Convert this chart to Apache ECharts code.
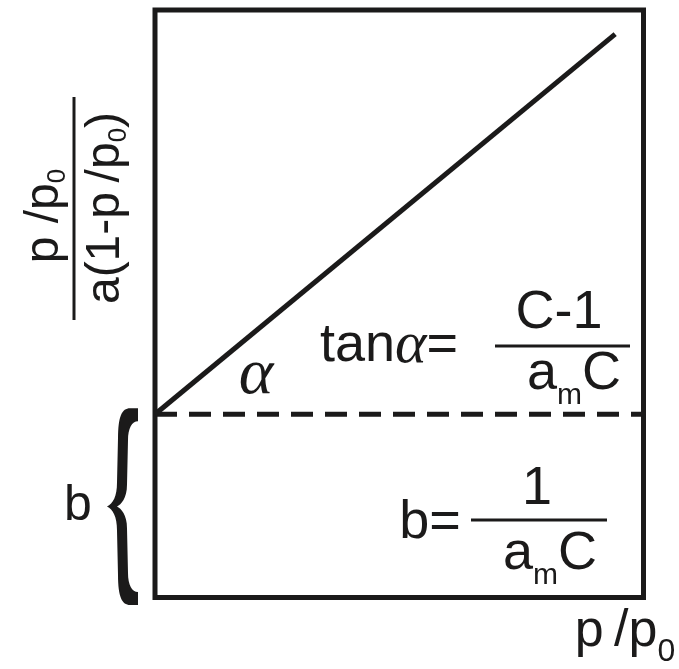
<!DOCTYPE html>
<html>
<head>
<meta charset="utf-8">
<title>BET plot</title>
<script src="https://cdn.jsdelivr.net/npm/echarts@6/dist/echarts.min.js"></script>
<style>
  html, body { margin: 0; padding: 0; background: #ffffff; }
  #chart { width: 679px; height: 669px; }
</style>
</head>
<body>
<div id="chart"></div>
<script>
// BET linear plot: p/p0 against p/p0 / (a(1 - p/p0)), with intercept b and slope tan(alpha)
const INK = '#1b1a1a';

// straight BET line (relative pressure -> transformed ordinate)
const betX = [0, 0.942];
const betY = [0.312, 0.959];

// intercept b as a dashed horizontal line
const interceptX = [0, 1];
const interceptY = [0.312, 0.312];

// brace spanning the intercept from zero up to b
const braceSpan = [[0, 0.312]];

const SANS = 'Liberation Sans';
const SERIF = 'Liberation Serif';

const chart = echarts.init(document.getElementById('chart'), null, { renderer: 'canvas' });

function bracePath(top, bottom, gx) {
  const T = top, B = bottom, M = (T + B) / 2;
  const tip = gx - 17, so = gx - 37, si = gx - 27, pt = gx - 48;
  return [
    'M', tip, T,
    'L', tip - 8, T,
    'C', tip - 16, T, so, T + 8, so, T + 30,
    'L', so - 1, M - 24,
    'C', so - 1, M - 10, pt + 6, M - 3, pt, M,
    'C', pt + 6, M + 3, so - 1, M + 10, so - 1, M + 24,
    'L', so, B - 30,
    'C', so, B - 8, tip - 16, B, tip - 8, B,
    'L', tip, B,
    'L', tip, B - 13,
    'C', si + 4, B - 13, si, B - 20, si, B - 32,
    'L', si - 1, M + 22,
    'C', si - 1, M + 8, pt + 14, M + 2, pt + 10, M,
    'C', pt + 14, M - 2, si - 1, M - 8, si - 1, M - 22,
    'L', si, T + 32,
    'C', si, T + 20, si + 4, T + 13, tip, T + 13,
    'Z'
  ].join(' ');
}

// rich styles: n = main text, g = greek letter, s = subscript pushed below the baseline
const mainRich = {
  n: { fontFamily: SANS, fontSize: 54, lineHeight: 60, fill: INK },
  g: { fontFamily: SERIF, fontStyle: 'italic', fontSize: 60, lineHeight: 60, fill: INK },
  s: { fontFamily: SANS, fontSize: 30, lineHeight: 8, padding: [37, 0, 0, 0], verticalAlign: 'top', fill: INK }
};

function label(x, y, text, extra) {
  return Object.assign({
    type: 'text', x: x, y: y, silent: true,
    style: {
      text: text, fill: INK, fontFamily: SANS, fontSize: 54,
      align: 'center', verticalAlign: 'middle', rich: mainRich
    }
  }, extra || {});
}

function rule(x1, y1, x2, y2, w) {
  return { type: 'line', silent: true, shape: { x1: x1, y1: y1, x2: x2, y2: y2 },
           style: { stroke: INK, lineWidth: w } };
}

const axisLabelRich = {
  n: { fontFamily: SANS, fontSize: 48, lineHeight: 52, fill: INK },
  s: { fontFamily: SANS, fontSize: 26, lineHeight: 18, verticalAlign: 'bottom', fill: INK }
};

const xTitleRich = {
  n: { fontFamily: SANS, fontSize: 52, lineHeight: 64, fill: INK },
  s: { fontFamily: SANS, fontSize: 32, lineHeight: 10, padding: [36, 0, 0, 0], verticalAlign: 'top', fill: INK }
};

chart.setOption({
  animation: false,
  backgroundColor: '#ffffff',
  grid: {
    left: 155, right: 35.5, top: 10, bottom: 71.5,
    show: true, borderWidth: 5, borderColor: INK, backgroundColor: 'transparent'
  },
  xAxis: { type: 'value', min: 0, max: 1, show: false },
  yAxis: { type: 'value', min: 0, max: 1, show: false },
  series: [
    {
      type: 'line', symbol: 'none', z: 3,
      data: betX.map((x, i) => [x, betY[i]]),
      lineStyle: { color: INK, width: 5 }
    },
    {
      type: 'line', symbol: 'none', z: 2,
      data: interceptX.map((x, i) => [x, interceptY[i]]),
      lineStyle: { color: INK, width: 5, type: [22, 12] }
    },
    {
      type: 'custom', clip: false, silent: true,
      data: braceSpan,
      renderItem: function (params, api) {
        const lo = api.coord([0, api.value(0)]);
        const hi = api.coord([0, api.value(1)]);
        return {
          type: 'path',
          shape: { pathData: bracePath(hi[1] - 6, lo[1] + 7.5, lo[0]) },
          style: { fill: INK, stroke: null }
        };
      }
    }
  ],
  graphic: [
    // y-axis title as a stacked fraction, reading bottom to top
    label(45, 216, '', {
      rotation: Math.PI / 2,
      style: { text: '{n|p /p}{s|0}', align: 'center', verticalAlign: 'middle', rich: axisLabelRich }
    }),
    rule(74, 97, 74, 320, 3),
    label(106, 208, '', {
      rotation: Math.PI / 2,
      style: { text: '{n|a(1-p\u2009/p}{s|0}{n|)}', align: 'center', verticalAlign: 'middle', rich: axisLabelRich }
    }),

    // x-axis title
    label(625, 632, '', {
      style: { text: '{n|p\u2009/p}{s|0}', align: 'center', verticalAlign: 'middle', rich: xTitleRich }
    }),

    // slope angle
    label(256, 376, '', {
      style: { text: '{g|\u03b1}', align: 'center', verticalAlign: 'middle', rich: {
        g: { fontFamily: SERIF, fontStyle: 'italic', fontSize: 66, lineHeight: 66, fill: INK }
      } }
    }),

    // tan(alpha) = (C-1)/(a_m C)
    label(389, 346, '{n|tan}{g|\u03b1}{n|=}'),
    label(559, 313, '{n|C-1}'),
    rule(495, 346, 630, 346, 3),
    label(574, 374, '{n|a}{s|m}{n|C}'),

    // b = 1/(a_m C)
    label(430, 523, '{n|b=}'),
    label(537, 489, '{n|1}'),
    rule(471, 520, 607, 520, 3),
    label(550, 554, '{n|a}{s|m}{n|C}'),

    // intercept marker next to the brace
    label(78, 506, '', {
      style: { text: '{n|b}', align: 'center', verticalAlign: 'middle', rich: {
        n: { fontFamily: SANS, fontSize: 50, lineHeight: 56, fill: INK }
      } }
    })
  ]
});
</script>
</body>
</html>
